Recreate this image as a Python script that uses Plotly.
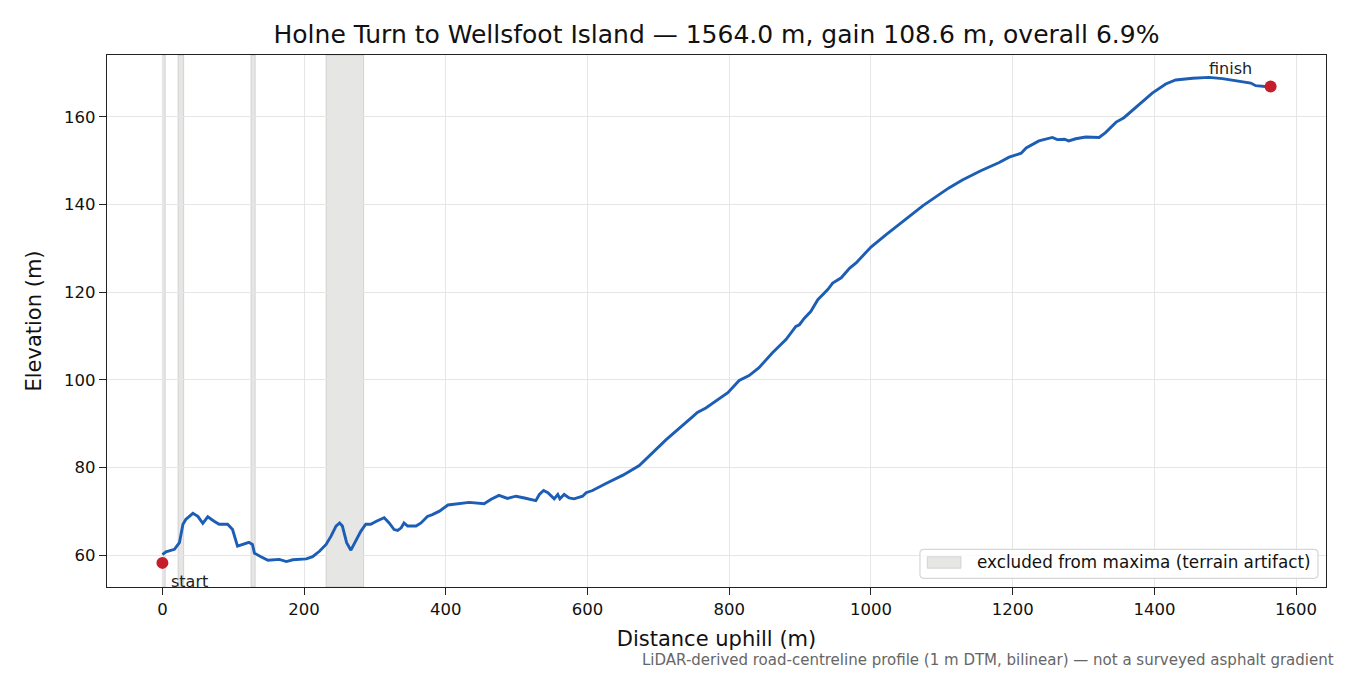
import plotly.graph_objects as go

# profile read along the road centreline (distance uphill, elevation)
distance_m = [0, 5, 17, 24, 29, 33, 43, 50, 57, 64, 73, 80, 92, 99, 106, 113, 122, 127, 130,
              139, 149, 165, 175, 184, 203, 212, 222, 231, 238, 245, 250, 254, 260, 266, 273,
              280, 287, 294, 302, 313, 320, 327, 332, 337, 341, 346, 358, 365, 374, 381, 391,
              403, 433, 454, 464, 475, 487, 499, 511, 527, 532, 538, 544, 553, 558, 561, 567,
              574, 581, 593, 598, 607, 626, 650, 673, 711, 748, 755, 767, 784, 798, 814, 828,
              842, 861, 880, 887, 894, 899, 906, 915, 925, 939, 946, 958, 970, 979, 991, 1000,
              1021, 1035, 1054, 1073, 1092, 1110, 1129, 1155, 1181, 1195, 1212, 1219, 1237,
              1256, 1263, 1273, 1279, 1289, 1303, 1322, 1331, 1346, 1357, 1378, 1397, 1416,
              1430, 1454, 1477, 1496, 1520, 1536, 1543, 1557, 1564]
elevation_m = [60.2, 60.8, 61.4, 62.9, 67.1, 68.2, 69.6, 68.9, 67.3, 68.8, 67.8, 67.1, 67.1,
               65.9, 62.1, 62.5, 63.0, 62.5, 60.5, 59.7, 58.9, 59.1, 58.6, 59.0, 59.2, 59.7,
               61.0, 62.5, 64.4, 66.7, 67.4, 66.7, 62.9, 61.2, 63.3, 65.5, 67.1, 67.1, 67.8,
               68.6, 67.4, 65.9, 65.7, 66.3, 67.4, 66.7, 66.7, 67.4, 68.9, 69.3, 70.1, 71.5,
               72.1, 71.8, 72.8, 73.7, 73.0, 73.5, 73.1, 72.5, 73.9, 74.8, 74.3, 72.9, 73.9,
               72.9, 73.9, 73.1, 72.9, 73.5, 74.3, 74.8, 76.4, 78.3, 80.5, 86.4, 91.6, 92.6,
               93.6, 95.5, 97.1, 99.9, 101.0, 102.8, 106.2, 109.2, 110.6, 112.2, 112.6, 114.1,
               115.6, 118.3, 120.6, 122.1, 123.3, 125.5, 126.7, 128.8, 130.3, 133.1, 134.9,
               137.2, 139.7, 141.8, 143.8, 145.6, 147.7, 149.6, 150.8, 151.7, 152.9, 154.5,
               155.3, 154.8, 154.9, 154.5, 155.0, 155.4, 155.3, 156.4, 158.8, 159.8, 162.7,
               165.4, 167.5, 168.4, 168.8, 169.0, 168.7, 168.1, 167.7, 167.1, 166.8, 166.8]

# end points
end_labels = ["start", "finish"]
end_distance = [0, 1564]
end_elevation = [58.3, 166.9]

# stretches excluded from maxima (terrain artifact)
excluded_start = [0, 22, 125, 231]
excluded_end = [4, 30, 131, 284]
excluded_label = "excluded from maxima (terrain artifact)"

x_ticks = [0, 200, 400, 600, 800, 1000, 1200, 1400, 1600]
y_ticks = [60, 80, 100, 120, 140, 160]

font_family = "DejaVu Sans"
span_fill = "rgba(128,128,120,0.2)"
span_edge = "rgba(128,128,128,0.25)"

fig = go.Figure()

for x0, x1 in zip(excluded_start, excluded_end):
    fig.add_vrect(
        x0=x0, x1=x1,
        fillcolor=span_fill,
        line=dict(color=span_edge, width=1),
        layer="below",
    )

fig.add_trace(go.Scatter(
    x=distance_m, y=elevation_m,
    mode="lines",
    line=dict(color="#1c5db5", width=2.9),
    showlegend=False,
    hoverinfo="skip",
))

fig.add_trace(go.Scatter(
    x=end_distance, y=end_elevation,
    mode="markers",
    marker=dict(color="#c41e2a", size=12),
    showlegend=False,
))

# start / finish labels offset from the dots
offsets = [(27, -19), (-40, 18)]
for label, x, y, (dx, dy) in zip(end_labels, end_distance, end_elevation, offsets):
    fig.add_annotation(
        x=x, y=y, text=label, showarrow=False,
        xshift=dx, yshift=dy,
        font=dict(family=font_family, size=16, color="#222"),
    )


# hand-drawn legend box (matplotlib style: rounded frame, wide patch)
def rounded_rect(x0, y0, x1, y1, rx, ry):
    return (f"M{x0 + rx},{y0} L{x1 - rx},{y0} Q{x1},{y0} {x1},{y0 + ry} "
            f"L{x1},{y1 - ry} Q{x1},{y1} {x1 - rx},{y1} L{x0 + rx},{y1} "
            f"Q{x0},{y1} {x0},{y1 - ry} L{x0},{y0 + ry} Q{x0},{y0} {x0 + rx},{y0} Z")


fig.add_shape(
    type="path", xref="paper", yref="paper",
    path=rounded_rect(0.6669, 0.0163, 0.9934, 0.0709, 0.0033, 0.0075),
    fillcolor="rgba(255,255,255,0.8)",
    line=dict(color="#d6d6d6", width=1.2),
)
fig.add_shape(
    type="rect", xref="paper", yref="paper",
    x0=0.6729, x1=0.7006, y0=0.0352, y1=0.0570,
    fillcolor=span_fill,
    line=dict(color=span_edge, width=1),
)
fig.add_annotation(
    xref="paper", yref="paper", x=0.7121, y=0.0461,
    xanchor="left", yanchor="middle",
    text=excluded_label, showarrow=False,
    font=dict(family=font_family, size=16.8, color="#111"),
)

fig.add_annotation(
    xref="paper", yref="paper", x=1.008, y=-0.137,
    xanchor="right", yanchor="middle",
    text="LiDAR-derived road-centreline profile (1 m DTM, bilinear) \u2014 not a surveyed asphalt gradient",
    showarrow=False,
    font=dict(family=font_family, size=15, color="#666666"),
)

axis_style = dict(
    showline=True, linecolor="#222", linewidth=1.3, mirror=True,
    ticks="outside", ticklen=7, tickcolor="#222", tickwidth=1.2,
    showgrid=True, gridcolor="#e6e6e6", gridwidth=1,
    zeroline=False,
    tickfont=dict(family=font_family, size=16.5, color="#111"),
)

fig.update_xaxes(
    range=[-78.2, 1642.2], tickvals=x_ticks,
    title=dict(text="Distance uphill (m)", standoff=13,
               font=dict(family=font_family, size=21, color="#111")),
    **axis_style,
)
fig.update_yaxes(
    range=[52.8, 174.1], tickvals=y_ticks,
    title=dict(text="Elevation (m)", standoff=16,
               font=dict(family=font_family, size=21, color="#111")),
    **axis_style,
)

fig.update_layout(
    width=1350, height=675,
    margin=dict(l=107, r=24, t=55, b=88),
    plot_bgcolor="white", paper_bgcolor="white",
    font=dict(family=font_family),
    showlegend=False,
    title=dict(
        text="Holne Turn to Wellsfoot Island \u2014 1564.0 m, gain 108.6 m, overall 6.9%",
        x=0.5, xanchor="center", xref="paper",
        y=1 - 34 / 675, yanchor="middle", yref="container",
        font=dict(family=font_family, size=25, color="#111"),
    ),
)

fig.write_html("out.html", config={"displayModeBar": False},
               post_script="document.body.style.margin='0px';")
